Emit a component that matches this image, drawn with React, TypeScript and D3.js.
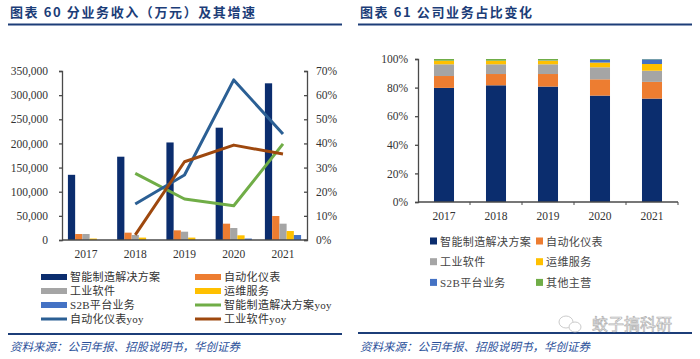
import React, { useEffect, useRef } from 'react'
import * as d3 from 'd3'

const years = ['2017', '2018', '2019', '2020', '2021']

// left chart: revenue by segment (万元)
const solution = [135000, 172500, 202000, 232600, 324500]
const instrument = [12400, 15200, 20000, 33800, 49700]
const software = [12400, 10300, 17200, 24800, 33800]
const service = [3000, 5000, 5000, 9700, 18600]
const s2b = [0, 0, 0, 3000, 10300]

// growth rates (%)
const solutionYoy = [null, 27.6, 17.0, 14.2, 39.8]
const instrumentYoy = [null, 14.9, 26.9, 66.3, 43.9]
const softwareYoy = [null, 2.1, 32.4, 39.3, 35.6]

const leftTicks = [0, 50000, 100000, 150000, 200000, 250000, 300000, 350000]
const rightTicks = [0, 10, 20, 30, 40, 50, 60, 70]

// right chart: share of revenue (%)
const shareSolution = [79.8, 81.6, 80.7, 74.4, 72.3]
const shareInstrument = [8.3, 7.9, 8.8, 11.4, 11.7]
const shareSoftware = [8.2, 6.8, 6.8, 8.4, 7.8]
const shareService = [2.5, 2.5, 2.5, 3.3, 4.7]
const shareS2b = [0, 0, 0.2, 1.9, 3.3]
const shareOther = [1.2, 1.2, 1.0, 0.6, 0.2]
const shareTicks = [0, 20, 40, 60, 80, 100]

const barNames = ['智能制造解决方案', '自动化仪表', '工业软件', '运维服务', 'S2B平台业务']
const shareNames = ['智能制造解决方案', '自动化仪表', '工业软件', '运维服务', 'S2B平台业务', '其他主营']
const lineNames = ['智能制造解决方案yoy', '自动化仪表yoy', '工业软件yoy']

const COLORS = ['#0b2d6e', '#ed7d31', '#a5a5a5', '#ffc000', '#4472c4', '#70ad47']
const LINE_COLORS = ['#70ad47', '#2b5f94', '#9e480e']
const TITLE_COLOR = '#1c3d78'
const AXIS = '#4a4a4a'
const SERIF = '"Liberation Serif", "Times New Roman", "Noto Sans CJK SC", serif'
const CJK = '"Noto Sans CJK SC", "Liberation Serif", sans-serif'

export default function App() {
  const svgRef = useRef<SVGSVGElement>(null)

  useEffect(() => {
    if (!svgRef.current) return
    document.body.style.margin = '0'
    const svg = d3.select(svgRef.current)
    svg.selectAll('*').remove()

    // headers and footers
    const header = (x0: number, x1: number, title: string) => {
      svg
        .append('text')
        .attr('x', x0 + 2)
        .attr('y', 17)
        .attr('fill', TITLE_COLOR)
        .style('font-family', CJK)
        .style('font-weight', 'bold')
        .style('font-size', '13px')
        .style('letter-spacing', '1.6px')
        .text(title)
      svg
        .append('line')
        .attr('x1', x0)
        .attr('x2', x1)
        .attr('y1', 24.5)
        .attr('y2', 24.5)
        .attr('stroke', TITLE_COLOR)
        .attr('stroke-width', 2)
    }
    const footer = (x0: number, x1: number, yLine: number) => {
      svg
        .append('line')
        .attr('x1', x0)
        .attr('x2', x1)
        .attr('y1', yLine)
        .attr('y2', yLine)
        .attr('stroke', TITLE_COLOR)
        .attr('stroke-width', 2)
      svg
        .append('text')
        .attr('x', x0 + 2)
        .attr('y', 351)
        .attr('fill', '#2a4f9a')
        .style('font-family', CJK)
        .style('font-style', 'italic')
        .style('font-size', '11.5px')
        .text('资料来源：公司年报、招股说明书，华创证券')
    }
    header(8, 342, '图表 60 分业务收入（万元）及其增速')
    header(358, 692, '图表 61 公司业务占比变化')
    footer(8, 342, 334)
    footer(358, 692, 333)

    // ---------- left chart ----------
    const L = { left: 62, right: 307, top: 71, bottom: 240 }
    const x = d3.scaleBand<string>().domain(years).range([L.left, L.right]).paddingInner(0.265).paddingOuter(0.12)
    const xInner = d3.scaleBand<number>().domain([0, 1, 2, 3, 4]).range([0, x.bandwidth()])
    const y = d3.scaleLinear().domain([0, 350000]).range([L.bottom, L.top])
    const y2 = d3.scaleLinear().domain([0, 70]).range([L.bottom, L.top])

    const left = svg.append('g')
    const barSeries = [solution, instrument, software, service, s2b]
    barSeries.forEach((vals, si) => {
      left
        .selectAll(null)
        .data(vals)
        .enter()
        .append('rect')
        .attr('x', (_, i) => (x(years[i]) as number) + (xInner(si) as number))
        .attr('width', xInner.bandwidth())
        .attr('y', (d) => y(d))
        .attr('height', (d) => L.bottom - y(d))
        .attr('fill', COLORS[si])
    })

    const axL = left
      .append('g')
      .attr('transform', `translate(${L.left},0)`)
      .call(d3.axisLeft(y).tickValues(leftTicks).tickSize(3).tickFormat((d) => d3.format(',')(+d)))
    const axR = left
      .append('g')
      .attr('transform', `translate(${L.right},0)`)
      .call(d3.axisLeft(y2).tickValues(rightTicks).tickSize(3).tickFormat(() => ''))
    left
      .selectAll(null)
      .data(rightTicks)
      .enter()
      .append('text')
      .attr('x', 316)
      .attr('y', (d) => y2(d) + 4)
      .attr('fill', '#333')
      .style('font-family', SERIF)
      .style('font-size', '11.5px')
      .text((d) => `${d}%`)
    const axB = left
      .append('g')
      .attr('transform', `translate(0,${L.bottom})`)
      .call(d3.axisBottom(x).tickSize(0).tickPadding(10))
    axB.select('.domain').attr('d', `M${L.left},0H${L.right}`)
    ;[axL, axR, axB].forEach((a) => {
      a.attr('font-family', null)
      a.selectAll('path, line').attr('stroke', AXIS).attr('stroke-width', 1.3)
      a.selectAll('text').attr('fill', '#333').style('font-family', SERIF).style('font-size', '11.5px')
    })
    axL.selectAll('text').attr('dx', -8)

    const lineGen = d3
      .line<number | null>()
      .defined((d) => d !== null)
      .x((_, i) => (x(years[i]) as number) + x.bandwidth() / 2)
      .y((d) => y2(d as number))
    ;[solutionYoy, instrumentYoy, softwareYoy].forEach((vals, li) => {
      left
        .append('path')
        .datum(vals)
        .attr('fill', 'none')
        .attr('stroke', LINE_COLORS[li])
        .attr('stroke-width', 3)
        .attr('stroke-linejoin', 'round')
        .attr('d', lineGen)
    })

    // left legend
    const legItems = [
      { name: barNames[0], color: COLORS[0], kind: 'bar' },
      { name: barNames[1], color: COLORS[1], kind: 'bar' },
      { name: barNames[2], color: COLORS[2], kind: 'bar' },
      { name: barNames[3], color: COLORS[3], kind: 'bar' },
      { name: barNames[4], color: COLORS[4], kind: 'bar' },
      { name: lineNames[0], color: LINE_COLORS[0], kind: 'line' },
      { name: lineNames[1], color: LINE_COLORS[1], kind: 'line' },
      { name: lineNames[2], color: LINE_COLORS[2], kind: 'line' },
    ]
    const legL = svg.append('g')
    legItems.forEach((it, i) => {
      const cx = i % 2 === 0 ? 41 : 195
      const cy = 277 + Math.floor(i / 2) * 14
      if (it.kind === 'bar') {
        legL.append('rect').attr('x', cx).attr('y', cy - 3).attr('width', 26).attr('height', 6).attr('fill', it.color)
      } else {
        legL.append('rect').attr('x', cx).attr('y', cy - 1.5).attr('width', 26).attr('height', 3).attr('fill', it.color)
      }
      legL
        .append('text')
        .attr('x', cx + 29)
        .attr('y', cy + 4)
        .attr('fill', '#333')
        .style('font-family', SERIF)
        .style('font-size', '11px')
        .style('letter-spacing', '0.3px')
        .text(it.name)
    })

    // ---------- right chart ----------
    const R = { left: 418, right: 678, top: 59, bottom: 202 }
    const xr = d3.scaleBand<string>().domain(years).range([R.left, R.right]).paddingInner(0.615).paddingOuter(0.3075)
    const yr = d3.scaleLinear().domain([0, 100]).range([R.bottom, R.top])
    const shares = [shareSolution, shareInstrument, shareSoftware, shareService, shareS2b, shareOther]
    const rows = years.map((yr0, i) => {
      const row: Record<string, number | string> = { year: yr0 }
      shares.forEach((s, k) => (row[`k${k}`] = s[i]))
      return row
    })
    const stacked = d3.stack<Record<string, number | string>>().keys(shares.map((_, k) => `k${k}`))(rows)
    const right = svg.append('g')
    stacked.forEach((layer, k) => {
      right
        .selectAll(null)
        .data(layer)
        .enter()
        .append('rect')
        .attr('x', (d) => xr(d.data.year as string) as number)
        .attr('width', xr.bandwidth())
        .attr('y', (d) => yr(d[1]))
        .attr('height', (d) => yr(d[0]) - yr(d[1]))
        .attr('fill', COLORS[k])
    })
    const axRL = right
      .append('g')
      .attr('transform', `translate(${R.left},0)`)
      .call(d3.axisLeft(yr).tickValues(shareTicks).tickSize(3).tickFormat((d) => `${d}%`))
    const axRB = right
      .append('g')
      .attr('transform', `translate(0,${R.bottom})`)
      .call(d3.axisBottom(xr).tickSize(0).tickPadding(10))
    axRB.select('.domain').attr('d', `M${R.left},0H${R.right}`)
    // category boundary ticks
    right
      .selectAll(null)
      .data(years)
      .enter()
      .append('line')
      .attr('x1', (d) => (xr(d) as number) + xr.bandwidth() / 2 + xr.step() / 2)
      .attr('x2', (d) => (xr(d) as number) + xr.bandwidth() / 2 + xr.step() / 2)
      .attr('y1', R.bottom)
      .attr('y2', R.bottom + 3)
      .attr('stroke', AXIS)
    ;[axRL, axRB].forEach((a) => {
      a.attr('font-family', null)
      a.selectAll('path, line').attr('stroke', AXIS).attr('stroke-width', 1.3)
      a.selectAll('text').attr('fill', '#333').style('font-family', SERIF).style('font-size', '11.5px')
    })
    axRL.selectAll('text').attr('dx', -4)

    // right legend
    const legR = svg.append('g')
    shareNames.forEach((name, i) => {
      const cx = i % 2 === 0 ? 430 : 536
      const cy = 241 + Math.floor(i / 2) * 20.7
      legR.append('rect').attr('x', cx).attr('y', cy - 3.5).attr('width', 7).attr('height', 7).attr('fill', COLORS[i])
      legR
        .append('text')
        .attr('x', cx + 10)
        .attr('y', cy + 4.5)
        .attr('fill', '#444')
        .style('font-family', SERIF)
        .style('font-size', '11px')
        .style('letter-spacing', '0.4px')
        .text(name)
    })

    // watermark
    const wm = svg.append('g').attr('opacity', 0.75)
    wm.append('ellipse').attr('cx', 566).attr('cy', 322).attr('rx', 7).attr('ry', 6).attr('fill', 'white').attr('stroke', '#bbb')
    wm.append('ellipse').attr('cx', 575).attr('cy', 327).attr('rx', 6).attr('ry', 5).attr('fill', 'white').attr('stroke', '#bbb')
    wm.append('text')
      .attr('x', 592)
      .attr('y', 330)
      .attr('fill', 'white')
      .attr('stroke', '#999')
      .attr('stroke-width', 0.7)
      .style('font-family', CJK)
      .style('font-size', '16px')
      .text('蛟子搞科研')
  }, [])

  return <svg ref={svgRef} width={700} height={359} style={{ display: 'block', background: '#fff' }} />
}
